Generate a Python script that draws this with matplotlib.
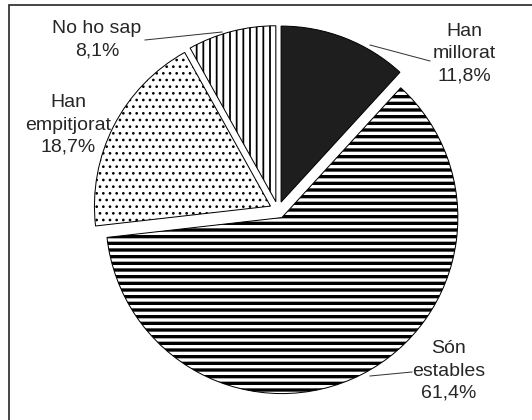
import matplotlib
matplotlib.use("Agg")
import matplotlib.pyplot as plt

categories = ["Han\nmillorat", "Són\nestables", "Han\nempitjorat", "No ho sap"]
values = [11.8, 61.4, 18.7, 8.1]

colors = ["#1e1e1e", "white", "white", "white"]
hatches = [None, "--", "..", "||"]
hatch_widths = [1.0, 3.0, 1.2, 1.6]

# label centres and leader lines, in pixels from the top-left corner
label_pos = [(464, 54), (449, 371), (68, 125), (97, 40)]
leaders = [((370, 45), (430, 61)), ((370, 376), (412, 372)), None, ((145, 40), (222, 32))]

W, H = 532, 420
DPI = 80
plt.rcParams["font.family"] = ["Liberation Sans", "DejaVu Sans"]

fig = plt.figure(figsize=(W / DPI, H / DPI), dpi=DPI)
ax = fig.add_axes([0, 0, 1, 1])

wedges, _ = ax.pie(values, startangle=90, counterclock=False,
                   center=(278, H - 210), radius=176, explode=[8.5] * 4,
                   colors=colors, frame=True,
                   wedgeprops=dict(edgecolor="black", linewidth=0.9))
ax.set_xlim(0, W)
ax.set_ylim(0, H)
ax.set_aspect("equal")
ax.axis("off")

for w, h, lw in zip(wedges, hatches, hatch_widths):
    if h:
        w.set_hatch(h)
    if hasattr(w, "set_hatch_linewidth"):
        w.set_hatch_linewidth(lw)

for cat, v, (x, y) in zip(categories, values, label_pos):
    txt = cat + "\n" + f"{v:.1f}".replace(".", ",") + "%"
    ax.text(x, H - y, txt, ha="center", va="center", fontsize=17.5,
            color="#262626", linespacing=1.4)

for seg in leaders:
    if seg is None:
        continue
    (x0, y0), (x1, y1) = seg
    ax.plot([x0, x1], [H - y0, H - y1], color="#333333", lw=0.9)

# frame: only left and top edges visible
ax.plot([9, 9, W + 5], [-5, H - 5, H - 5], color="#333333", lw=1.6,
        solid_joinstyle="miter", clip_on=False)

fig.savefig("out.png", dpi=DPI)
